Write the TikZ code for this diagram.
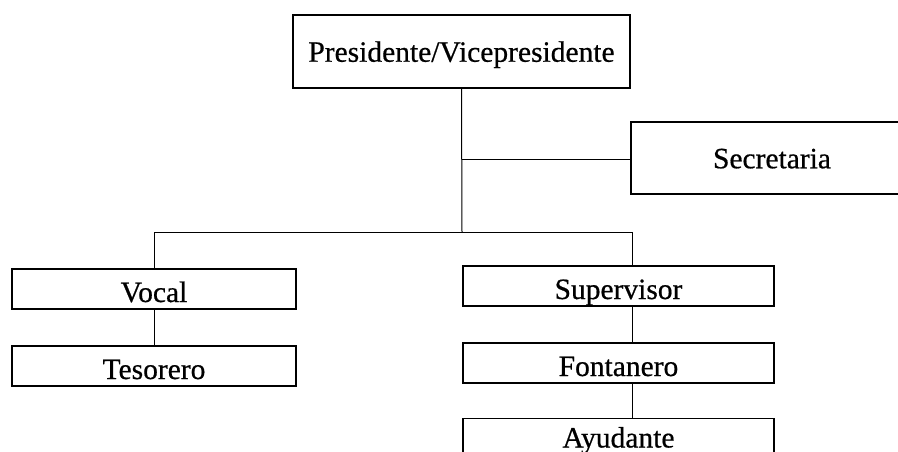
\documentclass[tikz,border=0pt]{standalone}
\usepackage{fontspec}
\setmainfont{Liberation Serif}[FakeBold=0.6]
\begin{document}
\begin{tikzpicture}[x=1pt,y=-1pt,
  box/.style={draw, line width=1.6pt, rectangle, inner sep=0pt, anchor=center,
    font=\fontsize{29.5}{31}\selectfont, text depth=0pt},
  big/.style={box, text height=20.5pt},
  wide/.style={box, minimum width=311pt, minimum height=40pt, text height=26pt},
  narrow/.style={box, minimum width=284pt, minimum height=40pt, text height=26pt},
  link/.style={line width=1pt}]
\useasboundingbox (0,0) rectangle (898,452);
\clip (0,0) rectangle (898,452);
\node[big, minimum width=337pt, minimum height=73pt] (pres) at (461.5,51.5) {Presidente/Vicepresidente};
\node[big, minimum width=282pt, minimum height=72pt] (sec) at (772,158) {Secretaria};
\node[narrow] (vocal) at (154,289) {Vocal};
\node[narrow] (tes) at (154,366) {Tesorero};
\node[wide] (sup) at (618.5,286) {Supervisor};
\node[wide] (fon) at (618.5,363) {Fontanero};
\node[wide, text height=18pt] (ayu) at (618.5,438.5) {Ayudante};
\coordinate (j1) at (462,159);
\coordinate (j2) at (462,232);
\coordinate (l) at (154,232);
\coordinate (r) at (632,232);
\draw[link] (pres.south) -- (j2);
\draw[link] (j1) -- (j1 -| sec.west);
\draw[link] (l) -- (r);
\draw[link] (l) -- (vocal.north);
\draw[link] (r) -- (r |- sup.north);
\draw[link] (vocal.south) -- (tes.north);
\draw[link] (r |- sup.south) -- (r |- fon.north);
\draw[link] (r |- fon.south) -- (r |- ayu.north);
\end{tikzpicture}
\end{document}
